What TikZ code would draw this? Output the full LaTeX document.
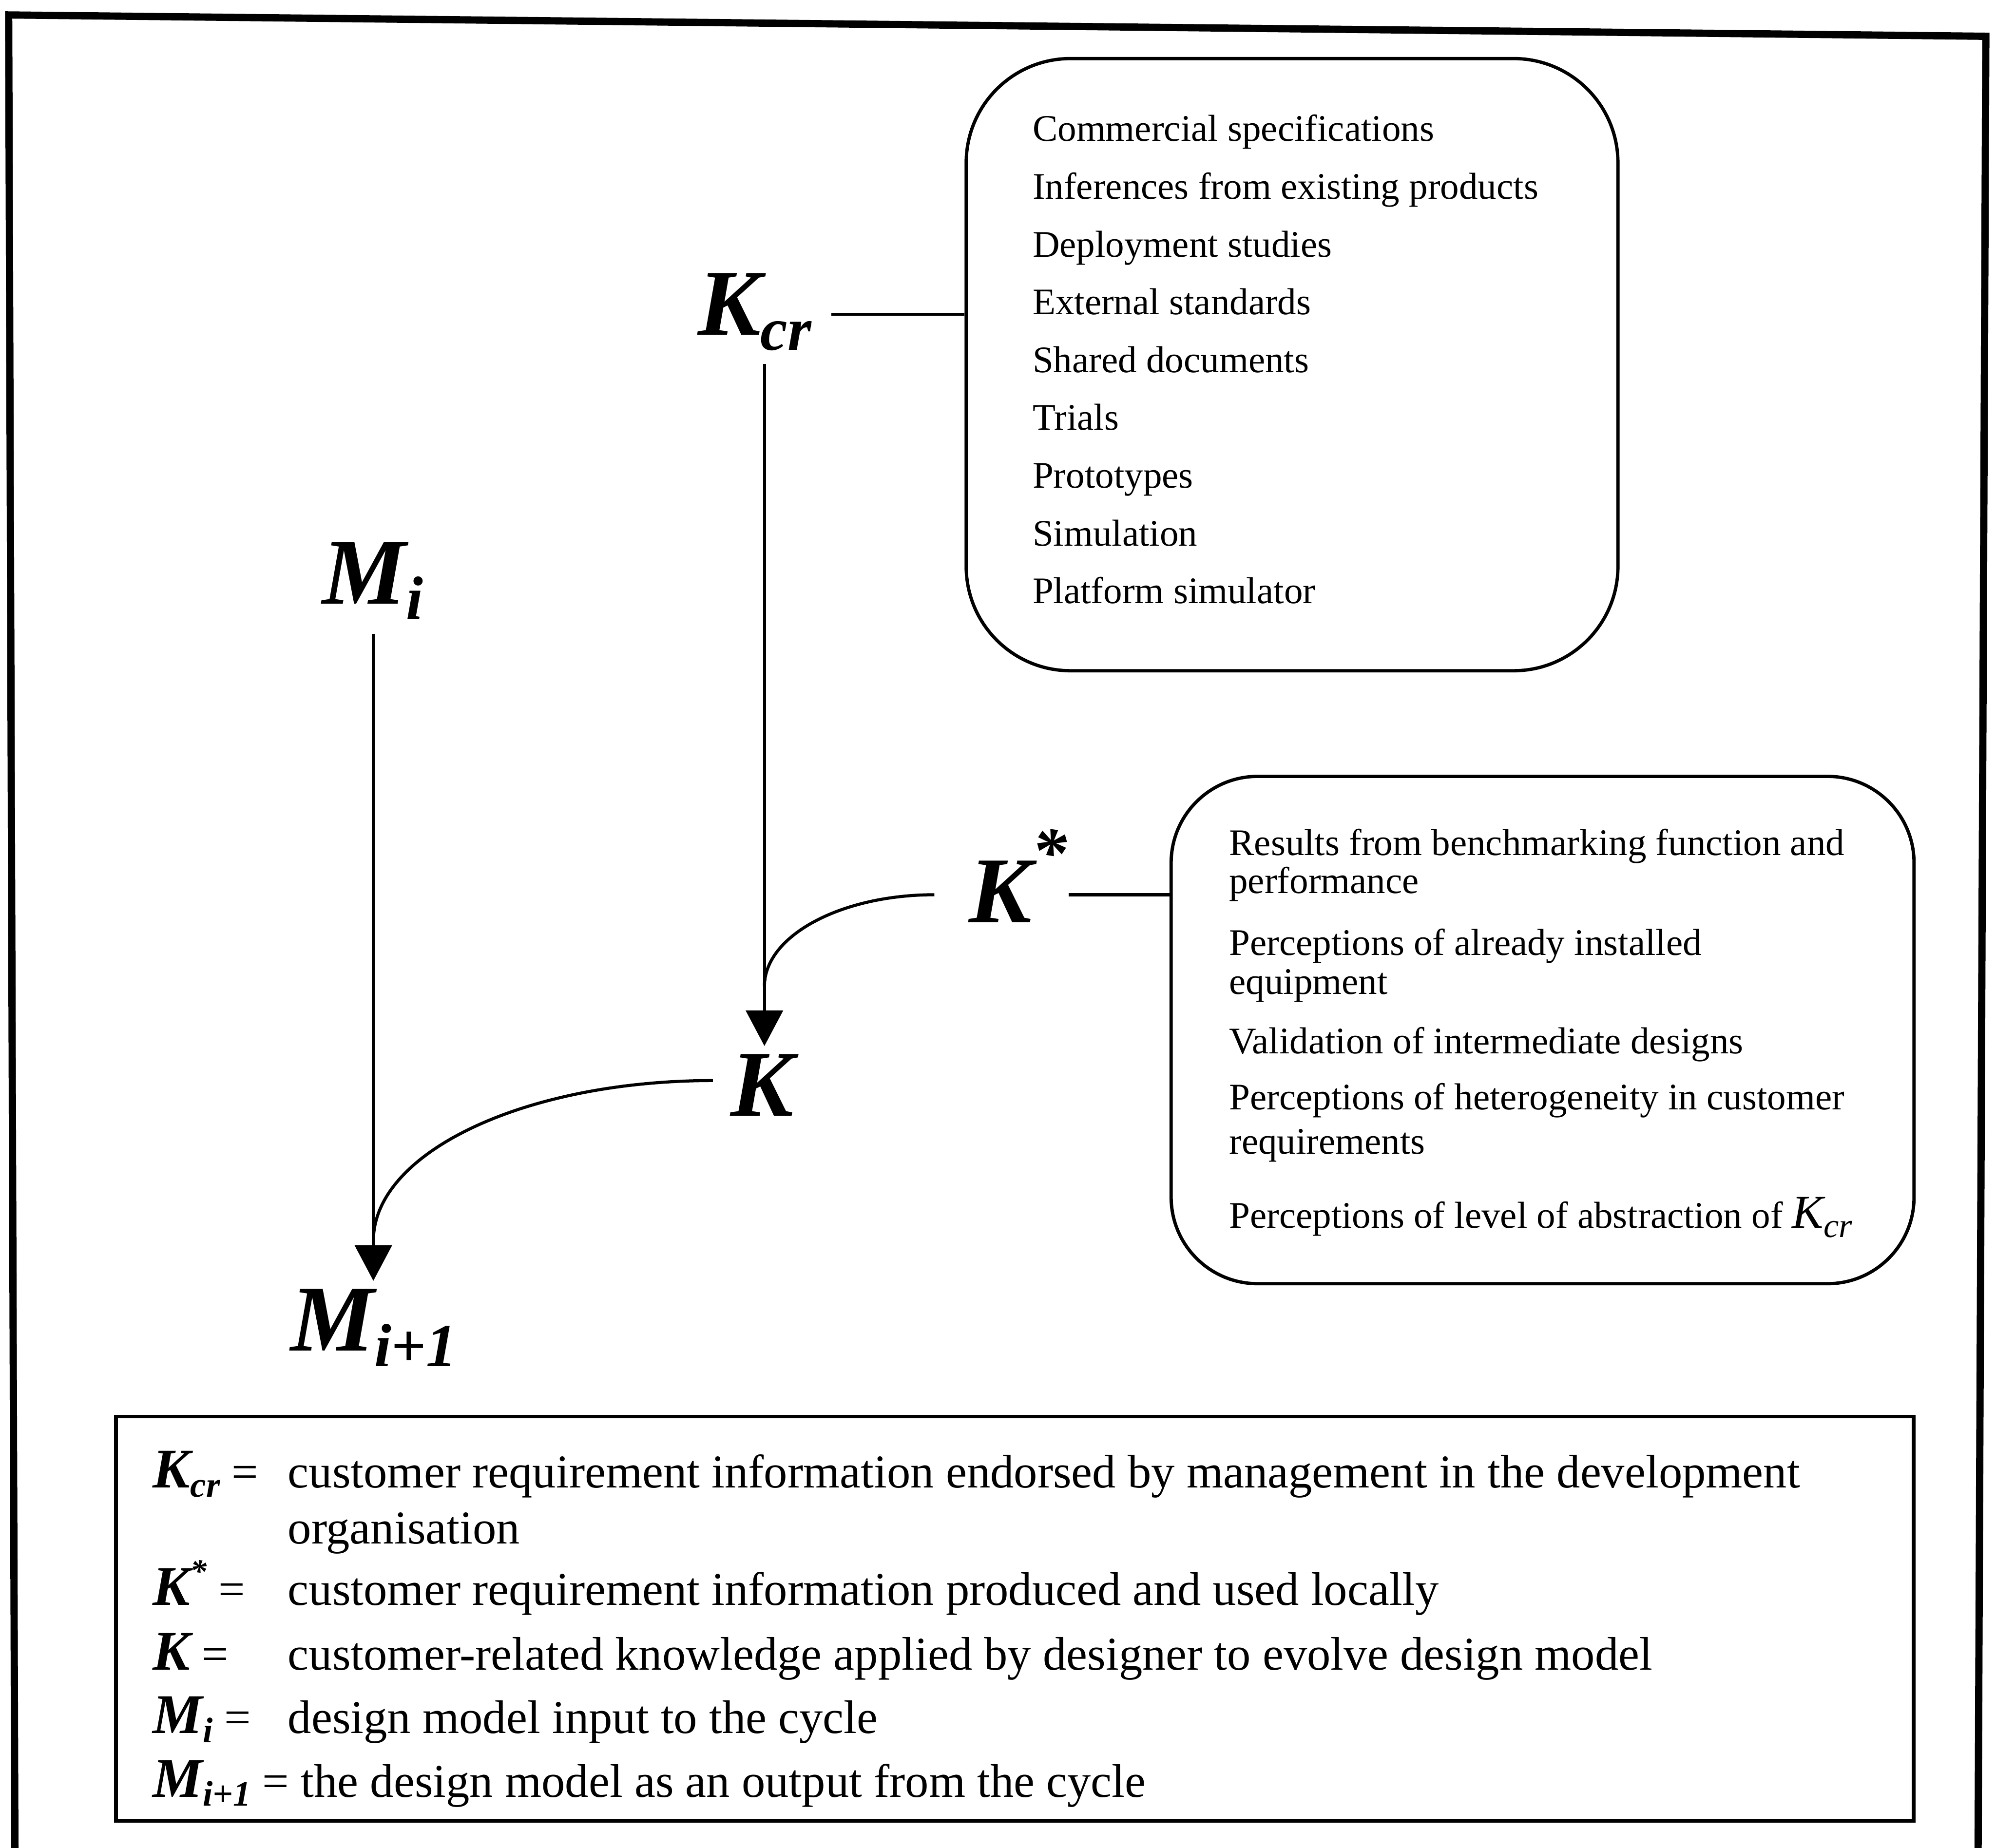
\documentclass[tikz,border=0pt]{standalone}
\usepackage{fontspec}
\setmainfont{Liberation Serif}
\usetikzlibrary{arrows.meta}

% type sizes
\newcommand\bigsym{\fontsize{74}{74}\selectfont\bfseries\itshape}
\newcommand\bigsub[1]{\raisebox{-12pt}{\fontsize{48}{48}\selectfont #1}}
\newcommand\keysym{\fontsize{44}{44}\selectfont\bfseries\itshape}
\newcommand\keysub[1]{\raisebox{-7pt}{\fontsize{28}{28}\selectfont #1}}
\newcommand\itemtext{\fontsize{29.5}{32}\selectfont}
\newcommand\plaintext{\fontsize{37}{40}\selectfont\mdseries\upshape}
\newcommand\eqsign{{\plaintext\ =}}

\begin{document}
\begin{tikzpicture}[x=1pt, y=-1pt,
  outerframe/.style={line width=5.7pt, line join=miter},
  conn/.style={line width=2.4pt},
  arr/.style={conn, -{Triangle[length=28pt, width=29pt]}},
  bubble/.style={draw, line width=2.6pt, inner sep=0pt},
  sym/.style={font=\bigsym, inner sep=0pt, anchor=base west},
  item/.style={font=\itemtext, inner sep=0pt, anchor=base west},
  key/.style={font=\keysym, inner sep=0pt, anchor=base west},
  keyline/.style={font=\plaintext, inner sep=0pt, anchor=base west},
]
\path[use as bounding box] (0,0) rectangle (1568,1452);
\fill[white] (0,0) rectangle (1568,1452);

% outer frame, its lower edge runs off the page
\draw[outerframe] (11.8,1480) -- (6.8,11.75) -- (1560,28.5) -- (1553.8,1480);

% model and knowledge symbols
\node[sym] (kcr) at (548,263) {K\bigsub{cr}};
\node[sym] (mi)  at (253,474.5) {M\bigsub{i}};
\node[sym] (mii) at (228,1061.5) {M\bigsub{i+1}};
\node[sym] (ks)  at (761,725) {K\smash{\raisebox{37pt}{\fontsize{55}{55}\selectfont *}}};
\node[sym] (k)   at (574,877) {K};

% sources of endorsed requirement information
\node[bubble, rounded corners=82pt, minimum width=512pt, minimum height=481pt] (box1) at (1015,286.5) {};
\foreach \t [count=\n from 0] in {Commercial specifications,
    Inferences from existing products, Deployment studies, External standards,
    Shared documents, Trials, Prototypes, Simulation, Platform simulator}
  \node[item] (src\n) at (811,{111+45.4*\n}) {\t};

% sources of locally produced information
\node[bubble, rounded corners=68pt, minimum width=583.6pt, minimum height=398.6pt] (box2) at (1211.8,809.3) {};
\node[item] (loc1)  at (965.4,672)   {Results from benchmarking function and};
\node[item] (loc1b) at (965.4,702)   {performance};
\node[item] (loc2)  at (965.4,750.6) {Perceptions of already installed};
\node[item] (loc2b) at (965.4,781)   {equipment};
\node[item] (loc3)  at (965.4,828)   {Validation of intermediate designs};
\node[item] (loc4)  at (965.4,872)   {Perceptions of heterogeneity in customer};
\node[item] (loc4b) at (965.4,906.5) {requirements};
\node[item] (loc5)  at (965.4,965)   {Perceptions of level of abstraction of
  {\fontsize{37}{37}\selectfont\itshape K}\raisebox{-7pt}{\fontsize{27}{27}\selectfont\itshape cr}};

% connector end points
\coordinate (kcr-r)    at (653,247);
\coordinate (kcr-foot) at (600.5,286);
\coordinate (ks-l)     at (734,703);
\coordinate (ks-r)     at (839.5,703);
\coordinate (j1)       at (600.5,775);
\coordinate (k-l)      at (560,849);
\coordinate (mi-foot)  at (293.3,498);
\coordinate (j2)       at (293.3,975);

\draw[conn] (kcr-r) -- (kcr-r -| box1.west);
\draw[conn] (ks-r) -- (ks-r -| box2.west);
\draw[arr, shorten >=6.5pt] (kcr-foot) -- (kcr-foot |- k.north);
\draw[conn] (ks-l) .. controls +(-73,0) and +(0,-40) .. (j1);
\draw[arr, shorten >=6.5pt] (mi-foot) -- (mi-foot |- mii.north);
\draw[conn] (k-l) .. controls +(-147.5,0) and +(0,-69.6) .. (j2);

% key
\node[draw, line width=3pt, inner sep=0pt, minimum width=1412pt, minimum height=317.5pt] (legend) at (797.25,1271.75) {};
\node[key] (l1) at (120,1169) {K\keysub{cr}\eqsign};
\node[keyline] (d1) at (226,1169) {customer requirement information endorsed by management in the development};
\node[keyline] (d1b) at (226,1213) {organisation};
\node[key] (l2) at (120,1261) {K\smash{\raisebox{18pt}{\fontsize{26}{26}\selectfont *}}\eqsign};
\node[keyline] (d2) at (226,1261) {customer requirement information produced and used locally};
\node[key] (l3) at (120,1312) {K\eqsign};
\node[keyline] (d3) at (226,1312) {customer-related knowledge applied by designer to evolve design model};
\node[key] (l4) at (120,1362) {M\keysub{i}\eqsign};
\node[keyline] (d4) at (226,1362) {design model input to the cycle};
\node[key] (l5) at (120,1412) {M\keysub{i+1}{\plaintext\ = the design model as an output from the cycle}};
\end{tikzpicture}
\end{document}
